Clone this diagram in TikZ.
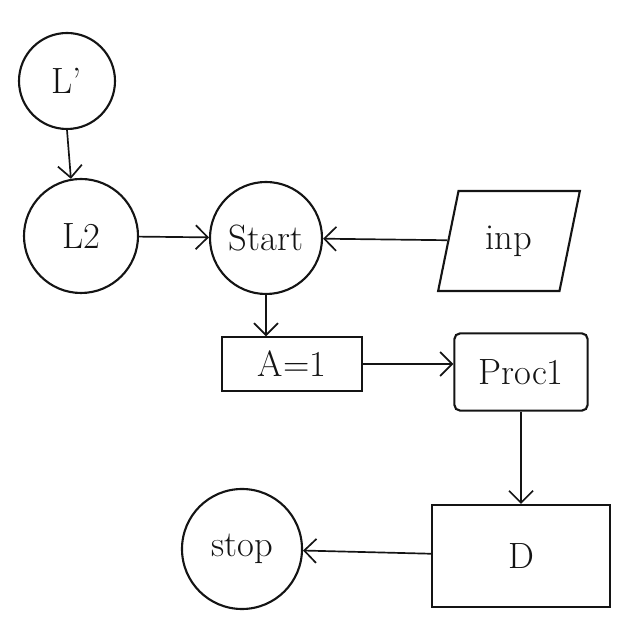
\documentclass[tikz,border=0pt]{standalone}
\usepackage{xcolor}
\usepackage{tikz}
\usetikzlibrary{shapes.geometric, arrows.meta, positioning, calc}
\definecolor{inkblack}{RGB}{20, 20, 20}

\begin{document}
\begin{tikzpicture}[
    line width=1.5pt, draw=inkblack, text=inkblack,
    every node/.style={font=\fontsize{26}{30}\selectfont, inner sep=0pt},
    termcircle/.style={circle, draw, line width=1.5pt},
    procbox/.style={rectangle, draw, line width=1.5pt},
    iobox/.style={trapezium, trapezium left angle=73, trapezium right angle=107,
        trapezium stretches=true, draw, line width=1.5pt},
    flow/.style={-{Straight Barb[length=3mm,width=6mm]}, line width=1.2pt}
]
    \useasboundingbox (0,0) rectangle (16,16);

    % Nodes
    \node[termcircle, minimum size=2.4cm] (lone) at (1.675,13.975) {L'};
    \node[termcircle, minimum size=2.85cm] (ltwo) at (2.025,10.1) {L2};
    \node[termcircle, minimum size=2.8cm] (start) at (6.65,10.05) {Start};
    \node[iobox, minimum width=3.55cm, minimum height=2.5cm] (inp) at (12.725,9.975) {inp};
    \node[procbox, minimum width=3.5cm, minimum height=1.33cm] (aone) at (7.3,6.9) {A=1};
    \node[procbox, rounded corners=4pt, minimum width=3.33cm, minimum height=1.93cm] (proc) at (13.025,6.7) {Proc1};
    \node[procbox, minimum width=4.43cm, minimum height=2.55cm] (dbox) at (13.025,2.1) {D};
    \node[termcircle, minimum size=3cm] (stop) at (6.05,2.275) {stop};

    % Connectors
    \draw[flow] (lone.south) -- (ltwo.100);
    \draw[flow] (ltwo) -- (start);
    \draw[flow] (inp) -- (start);
    \draw[flow] (start.south) -- (start.south |- aone.north);
    \draw[flow] (aone.east) -- (aone.east -| proc.west);
    \draw[flow] (proc.south) -- (dbox.north);
    \draw[flow] (dbox) -- (stop);
\end{tikzpicture}
\end{document}
